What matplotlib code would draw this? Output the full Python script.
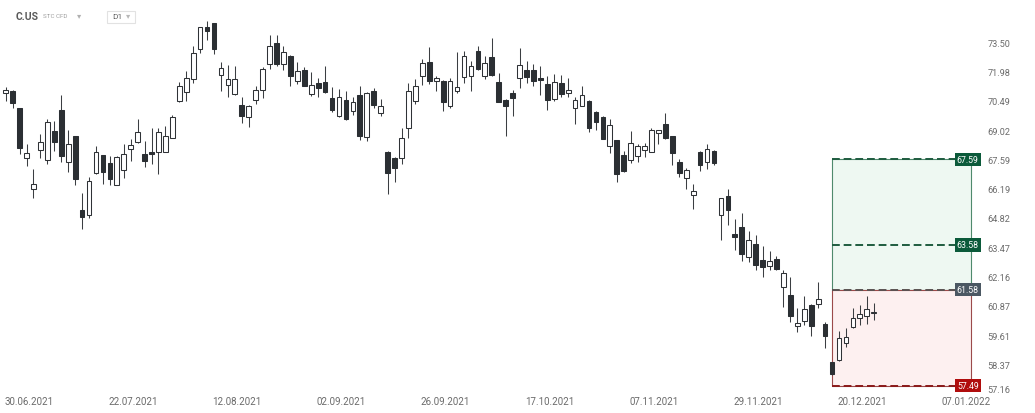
import matplotlib
matplotlib.use("Agg")
import matplotlib.pyplot as plt
from matplotlib.patches import Rectangle
from matplotlib.ticker import NullLocator
import numpy as np

plt.rcParams['font.family'] = ['Roboto', 'DejaVu Sans']

# daily candles, C.US
opens = [70.88, 71.00, 70.12, 67.68, 66.19, 68.04, 67.56, 68.98, 70.02, 67.47,
         68.71, 65.18, 64.98, 66.96, 67.80, 67.40, 66.39, 67.07, 68.12, 68.46,
         67.84, 67.95, 67.97, 67.97, 68.66, 70.46, 70.92, 71.60, 73.15, 74.33,
         74.52, 71.82, 71.29, 70.83, 70.29, 69.68, 70.52, 71.03, 72.37, 73.46,
         72.37, 72.80, 71.51, 72.06, 70.83, 71.39, 71.43, 70.61, 69.73, 70.52,
         69.99, 70.79, 68.69, 70.97, 69.87, 67.97, 67.68, 67.64, 69.15, 70.46,
         71.77, 72.46, 71.48, 71.51, 70.24, 71.00, 71.68, 71.77, 73.03, 71.73,
         72.72, 71.43, 70.54, 70.87, 71.63, 72.06, 72.06, 71.63, 71.34, 70.57,
         71.38, 70.90, 70.12, 70.24, 70.49, 69.94, 69.70, 68.25, 68.54, 67.79,
         67.56, 67.76, 68.04, 67.97, 68.90, 69.35, 68.71, 67.47, 66.72, 65.89,
         67.95, 67.47, 68.02, 64.98, 65.84, 64.10, 64.41, 63.03, 63.62, 62.91,
         62.64, 62.96, 61.70, 61.36, 60.01, 60.22, 60.91, 60.96, 60.09, 58.46,
         58.55, 59.27, 59.95, 60.34, 60.44, 60.55]
highs = [71.19, 71.02, 70.14, 68.33, 67.11, 68.82, 69.57, 69.48, 70.78, 69.03,
         68.73, 65.97, 66.76, 68.25, 67.82, 67.76, 67.76, 68.36, 68.61, 69.57,
         68.49, 69.11, 69.15, 69.23, 69.77, 71.46, 71.99, 73.32, 74.33, 74.64,
         74.54, 72.46, 72.33, 72.28, 70.66, 70.26, 71.25, 72.20, 73.90, 73.90,
         73.32, 72.82, 72.46, 72.20, 71.94, 71.63, 72.28, 71.17, 71.09, 71.00,
         70.66, 71.25, 70.92, 71.12, 70.57, 67.99, 67.70, 69.15, 71.39, 71.60,
         72.63, 73.24, 71.77, 71.53, 71.65, 72.98, 73.06, 72.54, 73.32, 72.80,
         73.73, 71.89, 70.56, 71.03, 73.20, 72.54, 72.37, 72.28, 71.77, 71.85,
         71.80, 71.63, 70.69, 71.25, 70.51, 69.96, 69.72, 69.57, 68.56, 68.00,
         68.98, 68.33, 68.41, 69.15, 69.04, 69.87, 68.73, 67.59, 67.20, 66.40,
         68.00, 68.36, 68.04, 65.75, 66.19, 64.75, 65.06, 64.24, 64.05, 63.54,
         63.32, 63.09, 62.46, 62.16, 60.77, 61.31, 60.93, 61.90, 60.19, 58.48,
         59.80, 59.91, 60.77, 60.91, 61.31, 60.98]
lows = [70.49, 70.12, 67.84, 67.27, 65.77, 67.68, 67.35, 68.00, 67.47, 66.99,
        66.39, 64.33, 64.82, 66.87, 66.43, 66.39, 66.37, 66.68, 67.51, 68.41,
        67.24, 67.39, 66.91, 67.95, 68.62, 70.44, 70.46, 71.38, 72.93, 73.62,
        72.89, 71.00, 70.66, 70.80, 69.40, 69.18, 70.32, 70.63, 72.11, 72.28,
        72.06, 71.25, 71.34, 71.22, 70.74, 70.66, 70.88, 69.91, 69.70, 69.55,
        69.77, 68.53, 68.49, 70.12, 69.73, 65.92, 66.51, 67.35, 68.66, 70.32,
        71.29, 71.34, 71.00, 69.96, 70.12, 70.87, 71.38, 71.00, 72.06, 71.60,
        71.77, 70.41, 68.74, 69.73, 71.14, 71.38, 71.25, 70.79, 70.02, 70.46,
        70.66, 70.66, 69.32, 70.22, 68.95, 69.03, 68.57, 67.92, 66.51, 67.01,
        67.40, 67.47, 67.71, 67.95, 68.33, 68.61, 67.31, 66.76, 66.20, 65.22,
        67.03, 67.11, 67.32, 63.79, 64.51, 63.33, 62.84, 62.79, 62.46, 62.14,
        62.43, 62.43, 60.84, 60.19, 59.76, 60.05, 59.55, 60.77, 59.05, 57.95,
        58.52, 59.10, 59.91, 60.05, 60.09, 60.26]
closes = [71.03, 70.36, 68.17, 67.89, 66.43, 68.46, 69.45, 68.46, 67.76, 68.36,
          66.63, 64.86, 66.55, 67.97, 67.00, 66.67, 67.73, 67.87, 68.28, 68.93,
          67.51, 67.87, 68.95, 68.74, 69.70, 71.22, 71.63, 72.93, 74.30, 74.11,
          73.15, 72.15, 71.60, 71.60, 69.73, 70.24, 71.03, 72.11, 73.29, 72.37,
          72.98, 71.73, 71.99, 71.25, 71.29, 71.12, 70.92, 70.02, 70.66, 69.57,
          70.41, 68.71, 70.87, 70.29, 70.24, 66.96, 67.20, 68.62, 70.97, 71.22,
          72.41, 71.51, 71.63, 70.41, 71.48, 71.20, 72.80, 72.28, 72.11, 72.41,
          71.80, 70.44, 70.24, 70.61, 72.32, 71.68, 71.51, 71.55, 70.52, 71.46,
          70.83, 71.03, 70.52, 70.79, 69.15, 69.43, 68.61, 69.27, 66.91, 67.03,
          68.38, 68.22, 68.22, 69.02, 69.02, 68.66, 67.92, 66.96, 67.08, 66.08,
          67.31, 68.11, 67.40, 65.73, 65.18, 63.94, 63.18, 63.82, 62.66, 62.59,
          62.84, 62.50, 62.32, 60.45, 60.12, 60.73, 59.98, 61.17, 59.55, 57.97,
          59.48, 59.52, 60.34, 60.52, 60.73, 60.62]

date_labels = ['30.06.2021', '22.07.2021', '12.08.2021', '02.09.2021', '26.09.2021',
               '17.10.2021', '07.11.2021', '29.11.2021', '20.12.2021', '07.01.2022']
first_label_bar = 3
label_step = 15
price_ticks = [73.50, 71.98, 70.49, 69.02, 67.59, 66.19, 64.82, 63.47, 62.16,
               60.87, 59.61, 58.37]
bottom_tick = 57.16

# long position tool: entry, two targets, stop
box_start = 119
box_end = 139
entry = 61.58
target1 = 63.58
target2 = 67.59
stop = 57.49

o = np.array(opens)
h = np.array(highs)
l = np.array(lows)
c = np.array(closes)
x = np.arange(len(o))

fig = plt.figure(figsize=(10.35, 4.14), dpi=100)
ax = fig.add_axes([0, 22 / 414, 978 / 1035, 384 / 414])

# candles
ax.vlines(x, l, h, color='#3b3e42', lw=0.75, zorder=2)
up = c >= o
bot = np.minimum(o, c)
hgt = np.maximum(np.abs(c - o), 0.03)
ax.bar(x[up], hgt[up], bottom=bot[up], width=0.68, facecolor='white',
       edgecolor='#2f3236', linewidth=0.75, zorder=3)
ax.bar(x[~up], hgt[~up], bottom=bot[~up], width=0.68, facecolor='#2b2f33',
       edgecolor='#2b2f33', linewidth=0.75, zorder=3)

# position box
w = box_end - box_start
ax.add_patch(Rectangle((box_start, entry), w, target2 - entry, facecolor='#eef8f2',
                       edgecolor='#4f8a6d', lw=0.8, zorder=1))
ax.add_patch(Rectangle((box_start, stop), w, entry - stop, facecolor='#fdf0f0',
                       edgecolor='#9b4a4a', lw=0.8, zorder=1))
levels = [target2, target1, entry, stop]
line_cols = ['#1f5c40', '#1f5c40', '#5a5252', '#8b1a1a']
badge_cols = ['#0b5a3a', '#0b5a3a', '#4b5863', '#b00d0d']
for lv, lc, bc in zip(levels, line_cols, badge_cols):
    ax.hlines(lv, box_start, box_end, colors=lc, linestyles=(0, (4, 2)), lw=1.4, zorder=4)
    ax.text(box_end - 0.45, lv, f'{lv:.2f}', ha='center', va='center', fontsize=6.3,
            color='white', zorder=6,
            bbox=dict(boxstyle='square,pad=0.25', fc=bc, ec='none'))

ax.set_yscale('log')
ax.set_xlim(-0.821, 140.02)
ax.set_ylim(57.272, 75.38)

ax.yaxis.tick_right()
ax.set_yticks(price_ticks)
ax.set_yticklabels([f'{v:.2f}' for v in price_ticks])
ax.yaxis.set_minor_locator(NullLocator())
ax.tick_params(axis='y', length=0, pad=7, labelsize=6.6, labelcolor='#6b6b6b')
ax.annotate(f'{bottom_tick:.2f}', xy=(1, 0), xycoords='axes fraction', xytext=(7, 1.4),
            textcoords='offset points', ha='left', va='center', fontsize=6.6,
            color='#6b6b6b', annotation_clip=False)

ax.set_xticks([first_label_bar + 0.33 + label_step * k for k in range(len(date_labels))])
ax.set_xticklabels(date_labels)
ax.tick_params(axis='x', length=0, pad=3.5, labelsize=7, labelcolor='#6b6b6b')

for s in ax.spines.values():
    s.set_visible(False)

# header
fy = 1 - 17 / 414
fig.text(16 / 1035, fy, 'C.US', fontsize=7.5, fontweight='bold', color='#5a5a5a', va='center')
fig.text(43 / 1035, fy, 'STC CFD', fontsize=4.5, color='#a0a0a0', va='center')
fig.text(77 / 1035, fy + 0.003, '▾', fontsize=6, color='#b0b0b0', va='center',
         family=['DejaVu Sans'])
fig.patches.append(Rectangle((107 / 1035, 1 - 24 / 414), 28 / 1035, 12.3 / 414,
                             transform=fig.transFigure, fc='white', ec='#e2e2e2', lw=0.8))
fig.text(112 / 1035, fy, 'D1', fontsize=6, color='#666666', va='center')
fig.text(126 / 1035, fy + 0.003, '▾', fontsize=6, color='#b8b8b8', va='center',
         family=['DejaVu Sans'])

fig.savefig('out.png', dpi=100)
